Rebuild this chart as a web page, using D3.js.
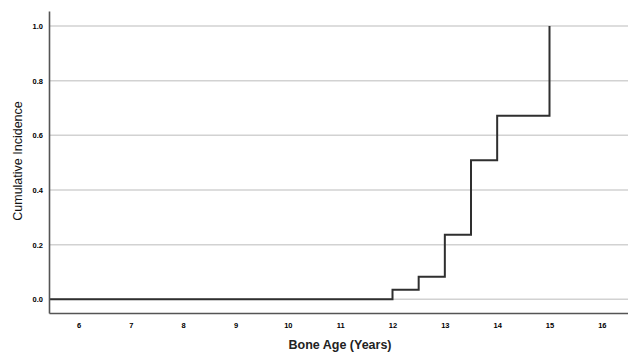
<!DOCTYPE html>
<html>
<head>
<meta charset="utf-8">
<script src="https://cdn.jsdelivr.net/npm/d3@7"></script>
<style>
  body { margin: 0; background: #fff; }
  svg { display: block; }
</style>
</head>
<body>
<div id="chart"></div>
<script>
// Cumulative incidence step curve
const eventAges = [12, 12.5, 13, 13.5, 14, 15];
const cumIncidence = [0.035, 0.083, 0.236, 0.509, 0.672, 1.0];
const xTicks = [6, 7, 8, 9, 10, 11, 12, 13, 14, 15, 16];
const yTicks = [0.0, 0.2, 0.4, 0.6, 0.8, 1.0];

const width = 628, height = 352;
const margin = { left: 49, right: 628, top: 11, bottom: 313 };

const svg = d3.select("#chart").append("svg")
  .attr("width", width)
  .attr("height", height);

const x = d3.scaleLinear().domain([5.436, 16.5]).range([margin.left, margin.right]);
const y = d3.scaleLinear().domain([-0.05, 1.055]).range([margin.bottom, margin.top]);

// gridlines
svg.append("g")
  .selectAll("line")
  .data(yTicks)
  .join("line")
  .attr("x1", margin.left)
  .attr("x2", margin.right)
  .attr("y1", d => y(d))
  .attr("y2", d => y(d))
  .attr("stroke", "#d2d2d2")
  .attr("stroke-width", 1.5);

// step curve, starts at left edge with 0
const points = [[x.domain()[0], 0]].concat(eventAges.map((a, i) => [a, cumIncidence[i]]));
svg.append("path")
  .datum(points)
  .attr("fill", "none")
  .attr("stroke", "#2f2f2f")
  .attr("stroke-width", 2)
  .attr("d", d3.line()
    .x(d => x(d[0]))
    .y(d => y(d[1]))
    .curve(d3.curveStepAfter));

// axes
const xAxis = svg.append("g")
  .attr("transform", `translate(0,${margin.bottom})`)
  .call(d3.axisBottom(x).tickValues(xTicks).tickSize(0).tickPadding(10).tickFormat(d3.format("d")));
xAxis.select(".domain").attr("stroke", "#555").attr("stroke-width", 1.6);

const yAxis = svg.append("g")
  .attr("transform", `translate(${margin.left},0)`)
  .call(d3.axisLeft(y).tickValues(yTicks).tickSize(0).tickPadding(6).tickFormat(d3.format(".1f")));
yAxis.select(".domain").attr("stroke", "#555").attr("stroke-width", 1.6);

svg.selectAll(".tick text")
  .attr("font-family", "Arial, 'Liberation Sans', sans-serif")
  .attr("font-size", "7.5px")
  .attr("font-weight", "bold")
  .attr("fill", "#000");

// axis titles
svg.append("text")
  .attr("x", 340)
  .attr("y", 349)
  .attr("text-anchor", "middle")
  .attr("font-family", "Arial, 'Liberation Sans', sans-serif")
  .attr("font-size", "12.5px")
  .attr("font-weight", "bold")
  .attr("fill", "#222")
  .text("Bone Age (Years)");

svg.append("text")
  .attr("transform", "translate(22,161) rotate(-90)")
  .attr("text-anchor", "middle")
  .attr("font-family", "Arial, 'Liberation Sans', sans-serif")
  .attr("font-size", "12.5px")
  .attr("fill", "#111")
  .text("Cumulative Incidence");
</script>
</body>
</html>
